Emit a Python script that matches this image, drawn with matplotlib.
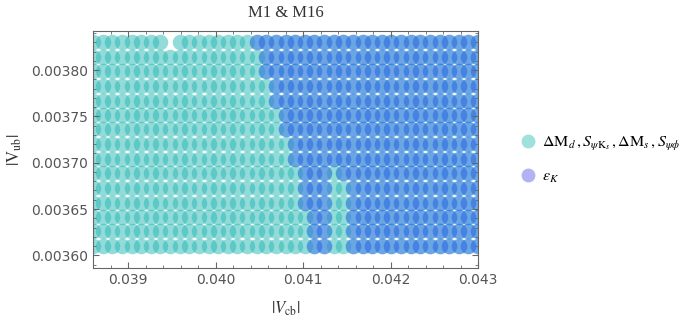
import matplotlib
matplotlib.use("Agg")
from matplotlib import pyplot as plt
from matplotlib.ticker import MultipleLocator, FormatStrFormatter
from matplotlib.lines import Line2D

plt.rcParams['mathtext.fontset'] = 'stix'

# scan grid
vcb_grid = [0.03860, 0.03871, 0.03882, 0.03893, 0.03904, 0.03915, 0.03926, 0.03937,
            0.03948, 0.03959, 0.03970, 0.03981, 0.03992, 0.04003, 0.04014, 0.04025,
            0.04036, 0.04047, 0.04058, 0.04069, 0.04080, 0.04091, 0.04102, 0.04113,
            0.04124, 0.04135, 0.04146, 0.04157, 0.04168, 0.04179, 0.04190, 0.04201,
            0.04212, 0.04223, 0.04234, 0.04245, 0.04256, 0.04267, 0.04278, 0.04289,
            0.04300]
vub_grid = [0.003610, 0.003626, 0.003641, 0.003657, 0.003673, 0.003689, 0.003704,
            0.003720, 0.003736, 0.003751, 0.003767, 0.003783, 0.003799, 0.003814,
            0.003830]

# points missing from the B-physics constraints
cyan_missing = [(0.03948, 0.003830)]

# eps_K allowed: from eps_start (per Vub row) up to the right end, minus gaps
eps_start = [0.04113, 0.04113, 0.04113, 0.04102, 0.04102, 0.04102, 0.04091, 0.04091,
             0.04080, 0.04080, 0.04069, 0.04069, 0.04058, 0.04058, 0.04047]
eps_gap = [(0.04135, 0.04146), (0.04135, 0.04146), (0.04135, 0.04146),
           (0.04135, 0.04146), (0.04135, 0.04146), (0.04135, 0.04135),
           None, None, None, None, None, None, None, None, None]

cyan_x, cyan_y = [], []
blue_x, blue_y = [], []
for j, vub in enumerate(vub_grid):
    for vcb in vcb_grid:
        if (vcb, vub) not in cyan_missing:
            cyan_x.append(vcb)
            cyan_y.append(vub)
        if vcb >= eps_start[j] - 1e-7:
            g = eps_gap[j]
            if g is not None and g[0] - 1e-7 <= vcb <= g[1] + 1e-7:
                continue
            blue_x.append(vcb)
            blue_y.append(vub)

fig = plt.figure(figsize=(6.92, 3.23), dpi=100)
ax = fig.add_axes([0.1344, 0.1703, 0.5564, 0.7337])

cyan = (40/255, 185/255, 180/255)
blue = (60/255, 100/255, 240/255)
ax.scatter(cyan_x, cyan_y, s=125, color=cyan, alpha=0.5, linewidths=0)
ax.scatter(blue_x, blue_y, s=125, color=blue, alpha=0.45, linewidths=0)

ax.set_xlim(0.0386, 0.043)
ax.set_ylim(0.0035863, 0.0038422)

gray = '#666666'
ax.xaxis.set_major_locator(MultipleLocator(0.001))
ax.xaxis.set_minor_locator(MultipleLocator(0.0002))
ax.yaxis.set_major_locator(MultipleLocator(0.00005))
ax.yaxis.set_minor_locator(MultipleLocator(0.00001))
ax.xaxis.set_major_formatter(FormatStrFormatter('%.3f'))
ax.yaxis.set_major_formatter(FormatStrFormatter('%.5f'))
ax.tick_params(which='both', direction='in', top=True, right=True, color=gray,
               labelcolor='#555555', labelsize=10)
ax.tick_params(which='major', length=4)
ax.tick_params(which='minor', length=2.5)
for sp in ax.spines.values():
    sp.set_color(gray)

ax.set_title('M1 & M16', family='Liberation Serif', fontsize=12, color='#333333', pad=10)
ax.set_xlabel(r'$|V_{\mathrm{cb}}|$', fontsize=12, color='#333333', labelpad=9)
ax.set_ylabel(r'$|\mathrm{V}_{\mathrm{ub}}|$', fontsize=12, color='#333333', labelpad=5)

handles = [
    Line2D([], [], ls='none', marker='o', markersize=10, markeredgewidth=0,
           color=(160/255, 225/255, 220/255)),
    Line2D([], [], ls='none', marker='o', markersize=10, markeredgewidth=0,
           color=(178/255, 178/255, 245/255)),
]
labels = [r'$\Delta\mathrm{M}_d\,,S_{\psi\mathrm{K}_s}\,,\Delta\mathrm{M}_s\,,S_{\psi\phi}$',
          r'$\epsilon_K$']
fig.legend(handles, labels, loc='center left', bbox_to_anchor=(0.73, 0.505),
           frameon=False, fontsize=11.5, handletextpad=0.4, labelspacing=1.0,
           handlelength=1.0)

fig.savefig('out.png', dpi=100)
